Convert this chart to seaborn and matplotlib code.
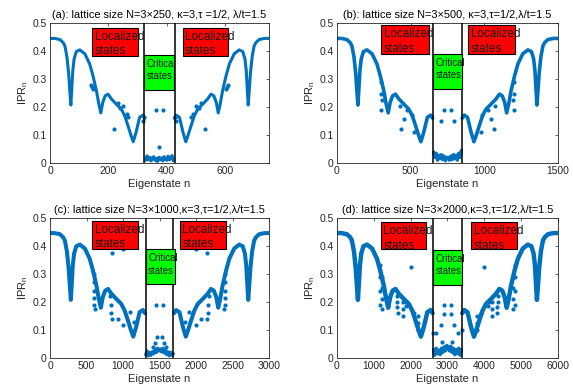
import numpy as np
import pandas as pd
import matplotlib
matplotlib.use("Agg")
import matplotlib.pyplot as plt
from matplotlib.patches import Rectangle
import seaborn as sns

sns.set_style("white")
plt.rcParams["font.family"] = ["Liberation Sans", "DejaVu Sans"]
plt.rcParams["mathtext.fontset"] = "custom"
plt.rcParams["mathtext.rm"] = "Liberation Sans"
plt.rcParams["mathtext.it"] = "Liberation Sans:italic"

BLUE = "#0072BD"
AXC = "#262626"

# ---- data -------------------------------------------------------------
panel_tags = ["(a)", "(b)", "(c)", "(d)"]
sizes = [750, 1500, 3000, 6000]
titles = [
    "(a): lattice size N=3\u00d7250, \u03ba=3,\u03c4 =1/2, \u03bb/t=1.5",
    "(b): lattice size N=3\u00d7500, \u03ba=3,\u03c4=1/2,\u03bb/t=1.5",
    "(c): lattice size N=3\u00d71000,\u03ba=3,\u03c4=1/2,\u03bb/t=1.5",
    "(d): lattice size N=3\u00d72000,\u03ba=3,\u03c4=1/2,\u03bb/t=1.5",
]
xticks = [
    [0, 200, 400, 600],
    [0, 500, 1000, 1500],
    [0, 500, 1000, 1500, 2000, 2500, 3000],
    [0, 1000, 2000, 3000, 4000, 5000, 6000],
]
yticks = [0, 0.1, 0.2, 0.3, 0.4, 0.5]
ytick_labels = ["0", "0.1", "0.2", "0.3", "0.4", "0.5"]

# IPR of the localized branch (left half; state index as a fraction of N)
prof_u = [0.000, 0.020, 0.045, 0.060, 0.068, 0.077, 0.085, 0.091, 0.095,
          0.099, 0.104, 0.110, 0.120, 0.136, 0.159, 0.181, 0.196, 0.212,
          0.223, 0.232, 0.241, 0.252, 0.265, 0.280, 0.303, 0.325, 0.341,
          0.356, 0.370, 0.380, 0.393, 0.409, 0.424, 0.433]
prof_ipr = [0.445, 0.445, 0.441, 0.430, 0.418, 0.380, 0.320, 0.250, 0.207,
            0.260, 0.330, 0.372, 0.398, 0.404, 0.390, 0.354, 0.312, 0.258,
            0.210, 0.179, 0.217, 0.240, 0.246, 0.229, 0.210, 0.193, 0.169,
            0.133, 0.098, 0.076, 0.110, 0.163, 0.171, 0.160]

# critical window: low-IPR states between the two mobility edges
center_u = [0.437, 0.443, 0.449, 0.455, 0.461, 0.467, 0.473, 0.479, 0.485,
            0.491, 0.497, 0.503, 0.509, 0.515, 0.521, 0.527, 0.533, 0.539,
            0.545, 0.551, 0.557, 0.563]
center_ipr = [
    [0.010, 0.025, 0.012, 0.020, 0.008, 0.018, 0.022, 0.010, 0.016, 0.006, 0.020,
     0.012, 0.018, 0.008, 0.022, 0.014, 0.010, 0.024, 0.012, 0.018, 0.026, 0.008],
    [0.040, 0.020, 0.035, 0.010, 0.028, 0.015, 0.030, 0.012, 0.025, 0.008, 0.020,
     0.020, 0.010, 0.025, 0.012, 0.030, 0.015, 0.028, 0.010, 0.035, 0.020, 0.045],
    [0.012, 0.025, 0.008, 0.020, 0.010, 0.022, 0.015, 0.030, 0.020, 0.035, 0.025,
     0.032, 0.022, 0.035, 0.018, 0.028, 0.012, 0.022, 0.008, 0.020, 0.010, 0.015],
    [0.030, 0.010, 0.035, 0.015, 0.028, 0.012, 0.035, 0.020, 0.040, 0.025, 0.045,
     0.040, 0.025, 0.042, 0.020, 0.035, 0.012, 0.030, 0.015, 0.035, 0.010, 0.030],
]

# scattered states off the main branch (left half, mirrored on the right)
side_x = [
    [141, 144, 146, 218, 232, 240, 251, 262, 266, 320, 322],
    [296, 300, 301, 303, 430, 437, 453, 478, 512, 523],
    [600, 603, 606, 606, 608, 610, 825, 830, 838, 843, 845, 935, 1003, 1003, 1094, 1150],
    [1167, 1170, 1172, 1175, 1222, 1225, 1228, 1230, 1638, 1640, 1642, 1645,
     1792, 1795, 1798, 1882, 1885, 2009, 2100, 2200, 2205, 2210],
]
side_y = [
    [0.280, 0.272, 0.265, 0.121, 0.215, 0.198, 0.205, 0.176, 0.165, 0.150, 0.165],
    [0.290, 0.248, 0.190, 0.225, 0.205, 0.123, 0.158, 0.188, 0.170, 0.110],
    [0.300, 0.270, 0.240, 0.215, 0.190, 0.175, 0.220, 0.190, 0.160, 0.375, 0.140,
     0.140, 0.390, 0.117, 0.164, 0.130],
    [0.330, 0.290, 0.240, 0.190, 0.290, 0.250, 0.210, 0.175, 0.220, 0.200, 0.180,
     0.160, 0.200, 0.175, 0.150, 0.200, 0.185, 0.323, 0.160, 0.150, 0.125, 0.100],
]

# isolated states inside the critical window
mid_x = [
    [363, 386, 374],
    [708, 726, 772, 794],
    [1452, 1544, 1466, 1534, 1440, 1560, 1410, 1590],
    [2905, 3087, 2905, 3087, 2832, 3176, 2700, 3300, 2860, 3130, 2610, 3390],
]
mid_y = [
    [0.188, 0.188, 0.057],
    [0.150, 0.189, 0.189, 0.150],
    [0.189, 0.189, 0.076, 0.076, 0.055, 0.055, 0.038, 0.038],
    [0.189, 0.189, 0.156, 0.156, 0.118, 0.118, 0.088, 0.088, 0.058, 0.058, 0.090, 0.100],
]

# mobility edges
edges = [[323, 429], [654, 848], [1308, 1682], [2615, 3394]]

# annotation boxes: (x0, x1) as fraction of N, (y0, y1) in IPR units
red_left = [(0.193, 0.403), (0.200, 0.416), (0.193, 0.403), (0.198, 0.404)]
red_right = [(0.605, 0.813), (0.594, 0.804), (0.593, 0.802), (0.608, 0.815)]
red_y = [(0.382, 0.483), (0.390, 0.492), (0.390, 0.488), (0.388, 0.483)]
green_x = [(0.428, 0.564), (0.436, 0.567), (0.436, 0.570), (0.436, 0.566)]
green_y = [(0.260, 0.387), (0.265, 0.390), (0.264, 0.388), (0.260, 0.385)]

line_w = [2.2, 2.6, 2.9, 3.2]

# ---- figure ------------------------------------------------------------
fig = plt.figure(figsize=(5.73, 3.90), dpi=100)
positions = [
    [0.0873, 0.582, 0.3822, 0.359],
    [0.588, 0.582, 0.3857, 0.359],
    [0.0873, 0.082, 0.3822, 0.360],
    [0.588, 0.082, 0.3857, 0.360],
]


def add_box(ax, x0, x1, y0, y1, color, text, fs, dy):
    ax.add_patch(Rectangle((x0, y0), x1 - x0, y1 - y0, facecolor=color,
                           edgecolor="black", lw=0.8, zorder=6))
    ax.annotate(text, xy=(x0, y1), xytext=(1.8, -dy), textcoords="offset points",
                ha="left", va="top", fontsize=fs, linespacing=1.3,
                color="#1a1a1a", zorder=7, annotation_clip=False)


for i in range(4):
    ax = fig.add_axes(positions[i])
    N = sizes[i]
    lx = np.array(prof_u) * N
    ly = np.array(prof_ipr)
    rx = N - lx

    sns.lineplot(x=lx, y=ly, ax=ax, color=BLUE, lw=line_w[i], sort=False,
                 estimator=None, zorder=2)
    sns.lineplot(x=rx, y=ly, ax=ax, color=BLUE, lw=line_w[i], sort=False,
                 estimator=None, zorder=2)

    cx = np.array(center_u) * N
    sns.lineplot(x=cx, y=center_ipr[i], ax=ax, color=BLUE, lw=2.4, sort=False,
                 estimator=None, zorder=2)

    sx = np.array(side_x[i], dtype=float)
    sy = np.array(side_y[i])
    pts = pd.DataFrame({"n": np.concatenate([sx, N - sx, np.array(mid_x[i], float)]),
                        "ipr": np.concatenate([sy, sy, np.array(mid_y[i])])})
    sns.scatterplot(data=pts, x="n", y="ipr", ax=ax, color=BLUE, s=9,
                    linewidth=0, zorder=3)

    for e in edges[i]:
        ax.axvline(e, color="black", lw=1.1, zorder=4)

    add_box(ax, red_left[i][0] * N, red_left[i][1] * N, red_y[i][0], red_y[i][1],
            "#FF0000", "Localized\nstates", 8.4, 2.0)
    add_box(ax, red_right[i][0] * N, red_right[i][1] * N, red_y[i][0], red_y[i][1],
            "#FF0000", "Localized\nstates", 8.4, 2.0)
    add_box(ax, green_x[i][0] * N, green_x[i][1] * N, green_y[i][0], green_y[i][1],
            "#00FF00", "Critical\nstates", 6.9, 3.0)

    ax.set_xlim(0, N)
    ax.set_ylim(0, 0.5)
    ax.set_xticks(xticks[i])
    ax.set_xticklabels([str(t) for t in xticks[i]])
    ax.set_yticks(yticks)
    ax.set_yticklabels(ytick_labels)
    ax.tick_params(direction="in", length=2.5, width=0.5, top=True, right=True,
                   labelsize=7.4, colors=AXC, pad=2.5)
    for sp in ax.spines.values():
        sp.set_visible(True)
        sp.set_color(AXC)
        sp.set_linewidth(0.6)
    ax.set_xlabel("Eigenstate n", fontsize=8.0, color=AXC, labelpad=1.5)
    ax.set_ylabel("IPR$_\\mathrm{n}$", fontsize=8.0, color=AXC, labelpad=1.5)
    ax.set_title(titles[i], fontsize=7.9, color="black", pad=3.5)

fig.savefig("out.png", dpi=100)
